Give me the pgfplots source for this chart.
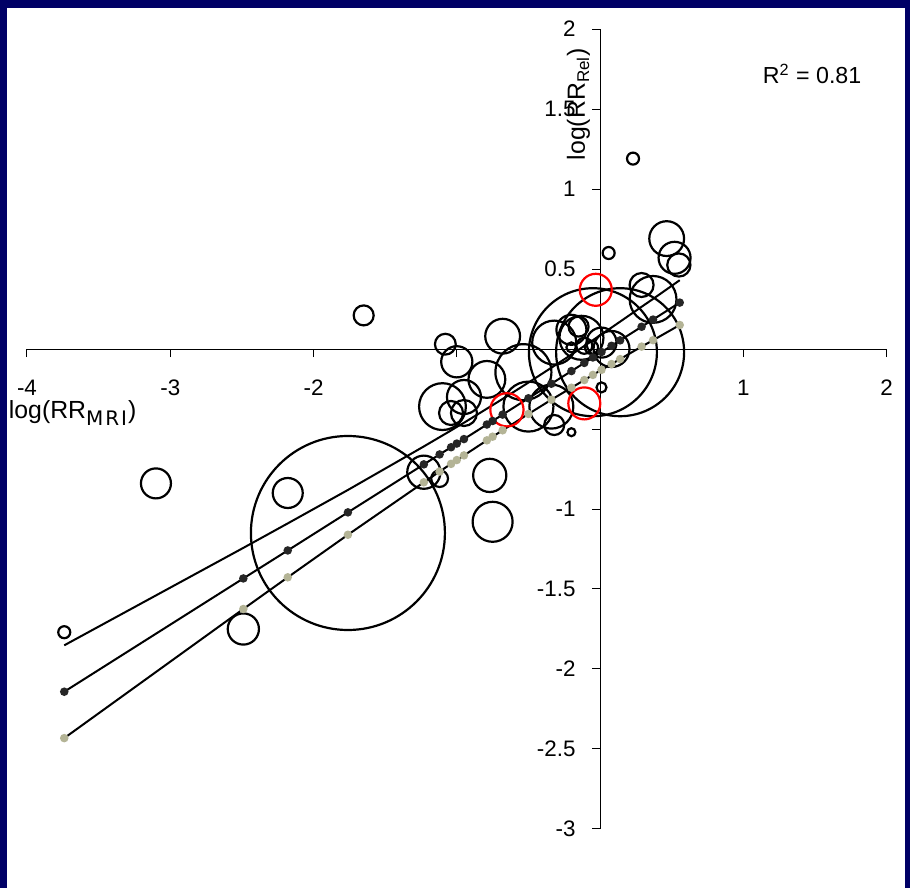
\documentclass[border=0pt]{standalone}
\usepackage{pgfplots}
\pgfplotsset{compat=1.18}
\usepackage{pgfplotstable}
\usepackage{fontspec}
\setmainfont{Liberation Sans}
\newfontfamily\subfont[LetterSpace=10]{DejaVu Sans}
\definecolor{slidenavy}{RGB}{0,0,102}
\definecolor{bandkhaki}{RGB}{180,180,150}

% studies: log relative risk by MRI (x), by relapse (y), bubble radius in pt
\pgfplotstableread{
x y r
-3.74 -1.77 3.0
-3.10 -0.84 7.5
-2.18 -0.90 7.5
-2.49 -1.75 7.8
-1.76 -1.15 48.5
-1.65 0.21 5.0
-1.08 0.03 5.2
-1.23 -0.77 8.3
-1.12 -0.81 4.2
-0.77 -0.79 8.3
-0.75 -1.08 10.0
0.23 1.19 3.0
0.06 0.60 3.0
0.465 0.69 8.7
0.52 0.57 8.0
0.55 0.525 5.8
0.29 0.40 6.0
0.37 0.31 11.7
-1.00 -0.08 7.8
-0.68 0.08 8.7
-0.79 -0.19 9.2
-1.10 -0.36 11.7
-0.95 -0.30 8.5
-1.04 -0.40 6.0
-0.95 -0.40 6.5
-0.50 -0.36 12.5
-0.05 -0.02 32.0
0.14 -0.02 32.0
-0.32 0.04 11.0
-0.13 0.07 11.0
-0.20 0.12 7.5
-0.15 0.14 5.0
-0.20 0.01 2.5
-0.11 0.02 4.0
-0.06 0.01 3.3
0.08 0.00 9.0
0.01 0.04 7.5
0.01 -0.24 2.5
-0.34 -0.36 11.0
-0.32 -0.475 5.0
-0.20 -0.52 2.0
-0.535 -0.145 14.0
}\studies

% studies highlighted in red
\pgfplotstableread{
x y r
-0.03 0.37 8.0
-0.65 -0.38 8.3
-0.11 -0.34 8.0
}\highlighted

% weighted regression: fitted value with lower and upper limits
\pgfplotstableread{
x f lo up
-3.74 -2.142 -2.432 -1.852
-2.49 -1.434 -1.625 -1.243
-2.18 -1.259 -1.427 -1.090
-1.76 -1.021 -1.161 -0.881
-1.23 -0.721 -0.833 -0.609
-1.12 -0.659 -0.766 -0.551
-1.04 -0.614 -0.718 -0.509
-1.00 -0.591 -0.694 -0.487
-0.95 -0.563 -0.665 -0.461
-0.79 -0.472 -0.571 -0.373
-0.75 -0.450 -0.548 -0.351
-0.68 -0.410 -0.508 -0.312
-0.50 -0.308 -0.406 -0.210
-0.34 -0.217 -0.317 -0.117
-0.20 -0.138 -0.242 -0.035
-0.11 -0.087 -0.194 0.019
-0.05 -0.053 -0.162 0.055
0.01 -0.019 -0.130 0.092
0.08 0.020 -0.094 0.134
0.14 0.054 -0.063 0.171
0.29 0.139 0.015 0.264
0.37 0.184 0.055 0.313
0.556 0.290 0.150 0.430
}\fit

\begin{document}
\begin{tikzpicture}
% slide frame and white panel
\fill[slidenavy] (-13.5pt,-29.5pt) rectangle (441.5pt,414.5pt);
\fill[white] (-10pt,-29.5pt) rectangle (439pt,410.5pt);
\begin{axis}[
  at={(0,0)}, anchor=south west,
  scale only axis, width=429.8pt, height=400pt,
  xmin=-4, xmax=2, ymin=-3, ymax=2,
  enlargelimits=false, clip=false,
  axis lines=middle,
  axis line style={-, black, line width=0.5pt},
  xtick={-4,-3,-2,-1,0,1,2},
  xticklabels={-4,-3,-2,,,1,2},
  ytick={-3,-2.5,-2,-1.5,-1,-0.5,0,0.5,1,1.5,2},
  yticklabels={-3,-2.5,-2,-1.5,-1,,,0.5,1,1.5,2},
  tick align=outside,
  major tick length=4pt,
  tick style={black, line width=0.5pt},
  ticklabel style={font=\fontsize{11.2}{13}\selectfont},
  xticklabel style={anchor=center, yshift=-15.5pt},
  yticklabel style={anchor=east, xshift=-4.75pt},
]
\addplot[scatter, only marks, mark=o,
  scatter/use mapped color={draw=black},
  mark options={line width=1.1pt},
  visualization depends on={\thisrow{r} \as \rad},
  scatter/@pre marker code/.append style={/tikz/mark size=\rad}]
  table[x=x, y=y] {\studies};
\addplot[scatter, only marks, mark=o,
  scatter/use mapped color={draw=red},
  mark options={line width=1.1pt},
  visualization depends on={\thisrow{r} \as \rad},
  scatter/@pre marker code/.append style={/tikz/mark size=\rad}]
  table[x=x, y=y] {\highlighted};
\addplot[black, line width=1pt, no marks] table[x=x, y=up] {\fit};
\addplot[black, line width=1pt, mark=*, mark size=1.6pt,
  mark options={draw=bandkhaki, fill=bandkhaki}] table[x=x, y=lo] {\fit};
\addplot[black, line width=1pt, mark=*, mark size=1.6pt,
  mark options={draw=black!85, fill=black!85}] table[x=x, y=f] {\fit};
\node[rotate=90, font=\fontsize{12.4}{14}\selectfont]
  at (axis cs:-0.150,1.53) {log(RR\textsubscript{\fontsize{8.5}{10}\selectfont Rel})};
\node[anchor=west, inner sep=0pt, font=\fontsize{12.4}{14}\selectfont]
  at (axis cs:-4.129,-0.40) {log(RR\textsubscript{\subfont\fontsize{10}{12}\selectfont MRI})};
\node[font=\fontsize{11.6}{14}\selectfont]
  at (axis cs:1.48,1.72) {R\textsuperscript{2} = 0.81};
\end{axis}
\pgfresetboundingbox
\path[use as bounding box] (-13.5pt,-29.5pt) rectangle (441.5pt,414.5pt);
\end{tikzpicture}
\end{document}
